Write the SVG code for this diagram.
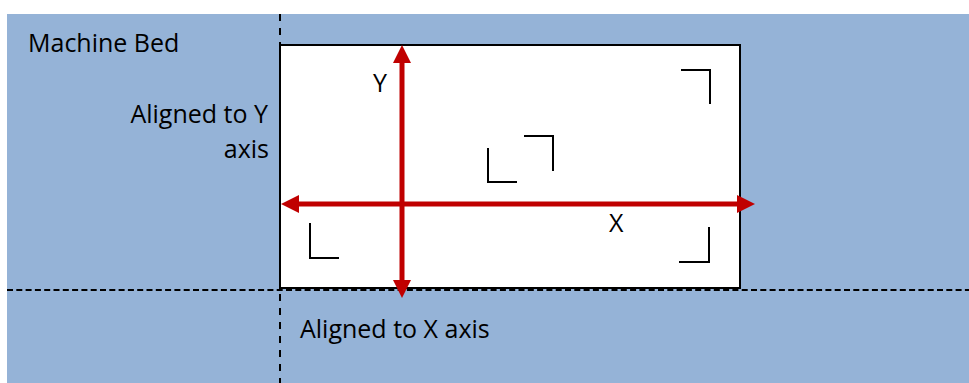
<svg xmlns="http://www.w3.org/2000/svg" width="969" height="383" viewBox="0 0 969 383">
<style>
.lbl{font-family:"Open Sans","Liberation Sans",sans-serif;font-size:25px;fill:#000}
.mark{fill:none;stroke:#000;stroke-width:2}
.dash{stroke:#000;stroke-width:2;fill:none}
.axis{stroke:#C00000;stroke-width:5;fill:none}
</style>
<defs>
<marker id="ah" viewBox="0 0 10 10" refX="3" refY="5" markerWidth="3.6" markerHeight="3.6" orient="auto-start-reverse" markerUnits="strokeWidth">
<path d="M0,0 L10,5 L0,10 z" fill="#C00000"/>
</marker>
</defs>
<rect x="0" y="0" width="969" height="383" fill="#fff"/>
<g id="bed">
<rect x="7" y="14" width="962" height="369" fill="#95B3D7"/>
<text class="lbl" x="28" y="52">Machine Bed</text>
</g>
<g id="workpiece">
<rect x="280" y="45" width="460" height="243" fill="#fff" stroke="#000" stroke-width="2"/>
</g>
<g id="marks">
<path class="mark" d="M681,70 H710 V104"/>
<path class="mark" d="M488,148 V182 H517"/>
<path class="mark" d="M524,136 H553 V171"/>
<path class="mark" d="M310,223 V258 H339"/>
<path class="mark" d="M709,227 V262 H679"/>
</g>
<g id="connectors">
<line class="dash" x1="280" y1="14" x2="280" y2="383" stroke-dasharray="7,7"/>
<line class="dash" x1="7" y1="290" x2="969" y2="290" stroke-dasharray="6,3.3"/>
<line class="axis" x1="402" y1="285.4" x2="402" y2="57.6" marker-start="url(#ah)" marker-end="url(#ah)"/>
<line class="axis" x1="293.6" y1="204" x2="742.4" y2="204" marker-start="url(#ah)" marker-end="url(#ah)"/>
</g>
<g id="labels">
<text class="lbl" x="268" y="123" text-anchor="end">Aligned to Y</text>
<text class="lbl" x="269" y="158" text-anchor="end">axis</text>
<text class="lbl" x="373" y="92">Y</text>
<text class="lbl" x="609" y="232">X</text>
<text class="lbl" x="300" y="338">Aligned to X axis</text>
</g>
</svg>
